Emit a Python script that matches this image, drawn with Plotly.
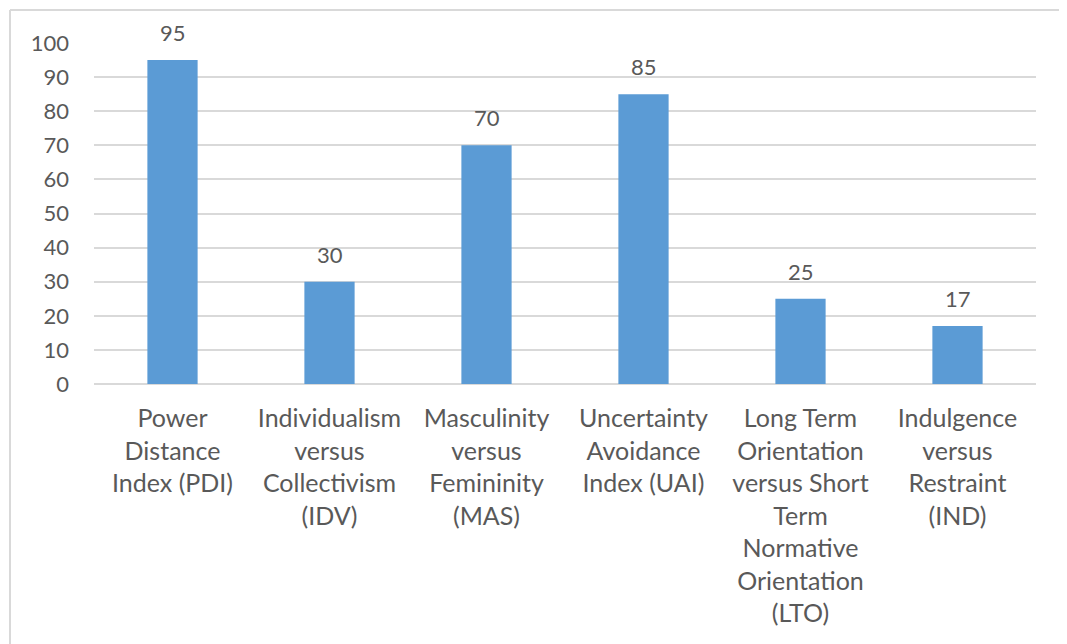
import plotly.graph_objects as go

categories = [
    "Power<br>Distance<br>Index (PDI)",
    "Individualism<br>versus<br>Collectivism<br>(IDV)",
    "Masculinity<br>versus<br>Femininity<br>(MAS)",
    "Uncertainty<br>Avoidance<br>Index (UAI)",
    "Long Term<br>Orientation<br>versus Short<br>Term<br>Normative<br>Orientation<br>(LTO)",
    "Indulgence<br>versus<br>Restraint<br>(IND)",
]
values = [95, 30, 70, 85, 25, 17]
y_ticks = [0, 10, 20, 30, 40, 50, 60, 70, 80, 90, 100]

TXT = "#595959"
FONT = "Lato, Carlito, Calibri, sans-serif"

fig = go.Figure(go.Bar(
    x=categories, y=values, width=0.32,
    marker=dict(color="#5B9BD5", line=dict(width=0)),
))

for c, v in zip(categories, values):
    fig.add_annotation(x=c, y=v, text=str(v), showarrow=False, yanchor="bottom", yshift=12,
                       font=dict(size=22, color=TXT, family=FONT))

OFF = 8  # default body margin of the html page
W, H = 1067 - OFF, 644 - OFF
l, r, t, b = 94 - OFF, 31, 43 - OFF, 260
pw, ph = W - l - r, H - t - b
def px(x): return (x - OFF - l) / pw
def py(y): return (H - b - (y - OFF)) / ph

fig.update_layout(
    width=W, height=H,
    margin=dict(l=l, r=r, t=t, b=b),
    paper_bgcolor="white", plot_bgcolor="white",
    font=dict(family=FONT, color=TXT, size=21),
    showlegend=False,
    shapes=[
        dict(type="line", xref="paper", yref="paper", x0=px(10), x1=px(1080), y0=py(10), y1=py(10),
             line=dict(color="#D9D9D9", width=2)),
        dict(type="line", xref="paper", yref="paper", x0=px(10), x1=px(10), y0=py(10), y1=py(660),
             line=dict(color="#D9D9D9", width=2)),
    ],
)
fig.update_yaxes(range=[0, 100], tickvals=y_ticks, showgrid=True, gridcolor="#D9D9D9", gridwidth=2,
                 zeroline=True, zerolinecolor="#D9D9D9", zerolinewidth=2, showline=False,
                 ticklabelstandoff=24, tickfont=dict(size=22, color=TXT, family=FONT))
fig.update_xaxes(showline=False, showgrid=False, ticks="", ticklabelstandoff=17,
                 tickfont=dict(size=25, color=TXT, family=FONT), tickangle=0)

fig.write_html("out.html")
